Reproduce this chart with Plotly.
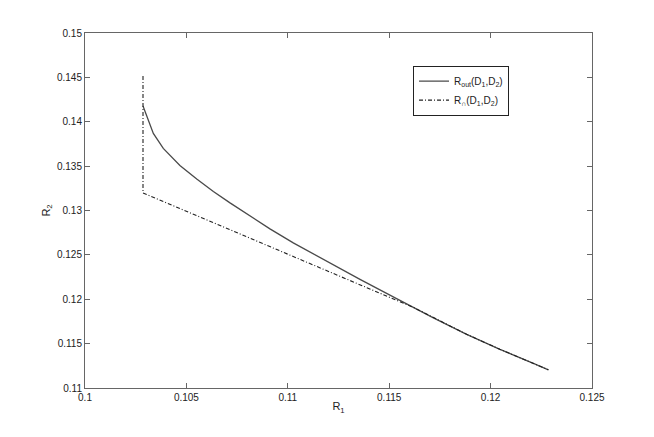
import plotly.graph_objects as go

# Outer bound curve R_out(D1,D2)
r1_out = [0.10286, 0.10337, 0.10386, 0.10468, 0.10551, 0.10633, 0.10715,
          0.10797, 0.10912, 0.11027, 0.11192, 0.11356, 0.11520, 0.11619,
          0.11718, 0.11882, 0.12046, 0.12211, 0.12285]
r2_out = [0.14178, 0.13868, 0.13699, 0.13508, 0.13356, 0.13215, 0.13086,
          0.12962, 0.12793, 0.12635, 0.12427, 0.12224, 0.12027, 0.11909,
          0.11791, 0.11605, 0.11436, 0.11278, 0.11205]

# Inner bound curve R_cap(D1,D2)
r1_in = [0.10286, 0.10286, 0.11619, 0.11718, 0.11882, 0.12046, 0.12211, 0.12285]
r2_in = [0.14516, 0.13198, 0.11909, 0.11791, 0.11605, 0.11436, 0.11278, 0.11205]

x_ticks = [0.1, 0.105, 0.11, 0.115, 0.12, 0.125]
x_labels = ["0.1", "0.105", "0.11", "0.115", "0.12", "0.125"]
y_ticks = [0.11, 0.115, 0.12, 0.125, 0.13, 0.135, 0.14, 0.145, 0.15]
y_labels = ["0.11", "0.115", "0.12", "0.125", "0.13", "0.135", "0.14", "0.145", "0.15"]

FONT = "Liberation Sans, Arial"

fig = go.Figure()
fig.add_trace(go.Scatter(x=r1_out, y=r2_out, mode="lines",
                         name="R<sub>out</sub>(D<sub>1</sub>,D<sub>2</sub>)",
                         line=dict(color="#4a4a4a", width=1.3)))
fig.add_trace(go.Scatter(x=r1_in, y=r2_in, mode="lines",
                         name="R<sub>∩</sub>(D<sub>1</sub>,D<sub>2</sub>)",
                         line=dict(color="#222222", width=1.1, dash="4px,2px,1px,2px")))

axis_common = dict(showgrid=False, zeroline=False, showline=True, linecolor="#666666",
                   linewidth=1, ticks="inside", ticklen=5, tickcolor="#666666",
                   mirror="ticks", tickfont=dict(family=FONT, size=10, color="#222222"))

fig.update_xaxes(range=[0.1, 0.125], tickvals=x_ticks, ticktext=x_labels,
                 title=dict(text="R<sub>1</sub>", standoff=0,
                            font=dict(family=FONT, size=11, color="#222222")),
                 **axis_common)
fig.update_yaxes(range=[0.11, 0.15], tickvals=y_ticks, ticktext=y_labels,
                 title=dict(text="R<sub>2</sub>", standoff=4,
                            font=dict(family=FONT, size=11, color="#222222")),
                 **axis_common)

fig.update_layout(
    width=646, height=429,
    margin=dict(l=77, r=62, t=25, b=49),
    paper_bgcolor="white", plot_bgcolor="white",
    font=dict(family=FONT, size=10, color="#222222"),
    legend=dict(x=0.647, y=0.908, xanchor="left", yanchor="top",
                bordercolor="#222222", borderwidth=1, bgcolor="white",
                font=dict(size=10), itemwidth=30, tracegroupgap=2),
    showlegend=True,
)

fig.write_html("out.html")
